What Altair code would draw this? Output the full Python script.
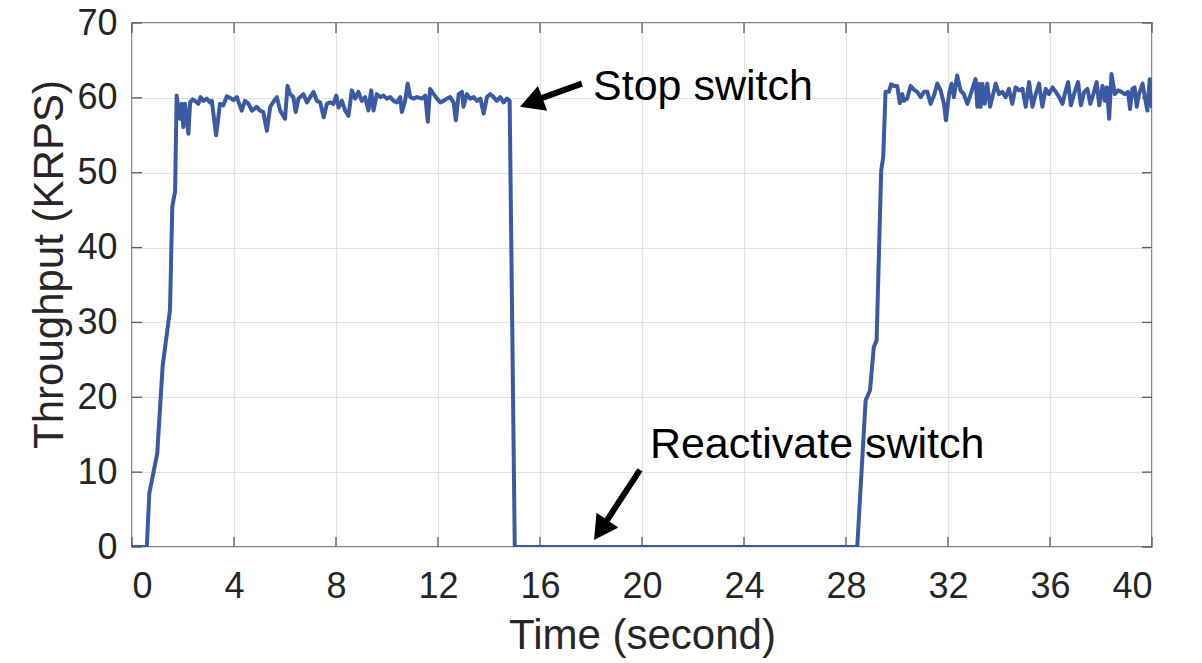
import altair as alt
import pandas as pd

# Throughput trace: time (s) and throughput (KRPS)
time_s = [
    0.0, 0.58, 0.68, 0.99, 1.20, 1.49, 1.58, 1.69,
    1.75, 1.88, 1.95, 2.01, 2.08, 2.21, 2.28, 2.38, 2.47, 2.60, 2.69, 2.80,
    2.93, 3.06, 3.13, 3.30, 3.45, 3.58, 3.72, 3.85, 3.98, 4.11, 4.30, 4.43,
    4.57, 4.70, 4.89, 5.02, 5.15, 5.29, 5.42, 5.55, 5.68, 5.81, 6.00, 6.10,
    6.20, 6.33, 6.42, 6.53, 6.72, 6.86, 6.99, 7.12, 7.25, 7.38, 7.52, 7.64,
    7.77, 7.90, 8.01, 8.10, 8.23, 8.36, 8.49, 8.62, 8.75, 8.88, 9.01, 9.14,
    9.27, 9.38, 9.47, 9.60, 9.73, 9.86, 9.99, 10.13, 10.26, 10.39, 10.52, 10.58,
    10.71, 10.81, 10.91, 11.04, 11.17, 11.37, 11.50, 11.60, 11.69, 11.83, 11.96, 12.09,
    12.22, 12.35, 12.48, 12.61, 12.70, 12.81, 12.94, 13.00, 13.13, 13.26, 13.40, 13.53,
    13.66, 13.79, 13.92, 14.05, 14.18, 14.31, 14.44, 14.57, 14.70, 14.81,
    15.01, 28.44,
    28.77, 28.94, 29.09, 29.20, 29.38, 29.46, 29.55,
    29.68, 29.77, 29.88, 30.01, 30.11, 30.21, 30.27, 30.40, 30.53, 30.66, 30.79, 30.93,
    31.06, 31.19, 31.32, 31.45, 31.58, 31.71, 31.84, 31.92, 32.04, 32.14, 32.23, 32.36,
    32.49, 32.62, 32.76, 32.89, 33.02, 33.08, 33.15, 33.21, 33.28, 33.35, 33.44, 33.54,
    33.65, 33.87, 34.00, 34.13, 34.26, 34.39, 34.52, 34.65, 34.79, 34.92, 35.05, 35.18,
    35.31, 35.44, 35.57, 35.70, 35.83, 35.96, 36.10, 36.23, 36.36, 36.49, 36.58, 36.71,
    36.82, 36.94, 37.10, 37.21, 37.34, 37.47, 37.58, 37.70, 37.83, 37.93, 38.06, 38.15,
    38.23, 38.32, 38.41, 38.54, 38.67, 38.80, 38.93, 39.06, 39.14, 39.23, 39.32, 39.40,
    39.49, 39.63, 39.72, 39.82, 39.91, 40.0,
]
krps = [
    0.0, 0.0, 7.2, 12.5, 24.1, 31.7, 45.5, 47.5,
    60.3, 57.2, 59.2, 56.1, 59.2, 55.2, 59.4, 59.8, 59.6, 59.2, 60.1, 59.6,
    59.9, 59.4, 59.6, 55.0, 59.2, 59.0, 60.2, 60.0, 59.7, 60.1, 58.3, 59.6,
    59.2, 58.3, 58.8, 58.3, 58.1, 55.6, 58.8, 59.5, 60.1, 58.3, 57.2, 61.6,
    60.5, 60.1, 58.1, 59.9, 60.5, 59.4, 60.1, 60.8, 59.6, 59.4, 57.4, 59.2,
    59.4, 59.2, 60.3, 58.7, 59.6, 58.3, 57.6, 61.0, 59.9, 60.8, 59.6, 60.1,
    58.3, 61.0, 58.3, 60.5, 60.1, 60.3, 59.9, 60.1, 59.6, 59.4, 60.1, 58.1,
    59.6, 61.9, 60.1, 59.9, 60.1, 59.9, 60.3, 56.8, 61.2, 60.5, 59.9, 59.4,
    59.6, 59.9, 60.1, 59.4, 57.0, 60.5, 60.8, 58.8, 60.5, 59.9, 60.1, 59.6,
    59.9, 57.9, 60.1, 60.5, 60.1, 59.6, 60.1, 59.4, 59.9, 59.6,
    0.0, 0.0,
    19.6, 20.9, 26.7, 27.6, 50.3, 52.1, 60.8,
    60.8, 61.8, 61.6, 61.6, 59.3, 60.5, 59.6, 59.9, 61.6, 61.1, 60.8, 60.1,
    60.8, 60.8, 59.2, 60.3, 61.9, 61.0, 59.2, 57.0, 60.5, 61.9, 60.1, 63.0,
    61.0, 60.5, 59.2, 60.5, 61.9, 62.5, 58.8, 61.9, 58.8, 61.9, 59.2, 61.9,
    58.8, 61.9, 60.5, 60.8, 60.1, 61.2, 59.2, 61.4, 61.0, 61.2, 58.8, 62.1,
    58.8, 60.5, 61.9, 58.8, 61.2, 60.5, 61.4, 60.8, 60.1, 59.2, 60.5, 62.1,
    59.0, 60.5, 62.1, 59.0, 60.8, 61.2, 59.2, 60.5, 62.1, 59.0, 61.6, 59.6,
    61.4, 57.2, 63.2, 60.5, 61.0, 60.8, 60.5, 60.8, 58.5, 61.2, 61.4, 58.8,
    60.5, 61.9, 60.1, 58.3, 62.5, 58.6,
]

x_ticks = list(range(0, 41, 4))
y_ticks = list(range(0, 71, 10))

# Annotation labels (anchor at the left end of the text baseline)
note_text = ["Stop switch", "Reactivate switch"]
note_t = [18.08, 20.31]
note_v = [59.7, 11.85]

# Arrows: tail -> base of the head, plus the tip and pointing angle
arrow_t = [17.64, 19.92]
arrow_v = [61.9, 10.3]
arrow_t2 = [15.76, 18.44]
arrow_v2 = [59.6, 2.6]
tip_t = [15.22, 18.12]
tip_v = [58.8, 0.94]
tip_angle = [249.2, 213.9]

W, H = 1020, 524
FONT = "Liberation Sans"
TXT = "#262626"
FRAME = "#5a5a5a"
LINE = "#3a5aa3"

trace = pd.DataFrame({"t": time_s, "v": krps})
notes = pd.DataFrame({"label": note_text, "t": note_t, "v": note_v})
arrows = pd.DataFrame({"t": arrow_t, "v": arrow_v, "t2": arrow_t2, "v2": arrow_v2})
tips = pd.DataFrame({"t": tip_t, "v": tip_v, "a": tip_angle})
xt = pd.DataFrame({"t": x_ticks})
yt = pd.DataFrame({"v": y_ticks})

xs = alt.Scale(domain=[0, 40], nice=False, zero=False)
ys = alt.Scale(domain=[0, 70], nice=False, zero=False)

x_axis = alt.Axis(
    values=x_ticks, grid=True, ticks=False, tickSize=0, domain=False,
    labelFont=FONT, labelFontSize=36, labelColor=TXT, labelPadding=22,
    title="Time (second)", titleFont=FONT, titleFontSize=42,
    titleFontWeight="normal", titleColor=TXT, titleBaseline="alphabetic",
    titleY=101, titleX=W / 2, titleAlign="center",
)
y_axis = alt.Axis(
    values=y_ticks, grid=True, ticks=False, tickSize=0, domain=False,
    labelFont=FONT, labelFontSize=36, labelColor=TXT, labelPadding=15,
    title="Throughput (KRPS)", titleFont=FONT, titleFontSize=42,
    titleFontWeight="normal", titleColor=TXT, titleAngle=270,
    titleBaseline="alphabetic", titleAlign="center", titleX=-70, titleY=241,
)

line = alt.Chart(trace).mark_line(
    color=LINE, strokeWidth=4, strokeJoin="round", clip=True
).encode(
    x=alt.X("t:Q", scale=xs, axis=x_axis),
    y=alt.Y("v:Q", scale=ys, axis=y_axis),
)

# Inward ticks on all four sides of the frame
xtick_bottom = alt.Chart(xt).mark_rule(color=FRAME, strokeWidth=1.3).encode(
    x=alt.X("t:Q", scale=xs), y=alt.value(H), y2=alt.value(H - 10))
xtick_top = alt.Chart(xt).mark_rule(color=FRAME, strokeWidth=1.3).encode(
    x=alt.X("t:Q", scale=xs), y=alt.value(0), y2=alt.value(10))
ytick_left = alt.Chart(yt).mark_rule(color=FRAME, strokeWidth=1.3).encode(
    y=alt.Y("v:Q", scale=ys), x=alt.value(0), x2=alt.value(10))
ytick_right = alt.Chart(yt).mark_rule(color=FRAME, strokeWidth=1.3).encode(
    y=alt.Y("v:Q", scale=ys), x=alt.value(W), x2=alt.value(W - 10))

labels = alt.Chart(notes).mark_text(
    align="left", baseline="alphabetic", font=FONT, fontSize=43, color="black"
).encode(
    x=alt.X("t:Q", scale=xs), y=alt.Y("v:Q", scale=ys), text="label:N"
)

shafts = alt.Chart(arrows).mark_rule(color="black", strokeWidth=6).encode(
    x=alt.X("t:Q", scale=xs), y=alt.Y("v:Q", scale=ys),
    x2="t2:Q", y2="v2:Q",
)

heads = alt.Chart(tips).mark_point(
    shape="M0,0L-0.55,1L0.55,1Z", filled=True, color="black", opacity=1,
    size=2304, strokeWidth=0,
).encode(
    x=alt.X("t:Q", scale=xs), y=alt.Y("v:Q", scale=ys),
    angle=alt.Angle("a:Q", scale=None),
)

chart = alt.layer(
    line, xtick_bottom, xtick_top, ytick_left, ytick_right, labels, shafts, heads
).properties(
    width=W, height=H, autosize="none",
    padding={"left": 132, "top": 23, "right": 50, "bottom": 116},
    background="white",
).configure_view(
    stroke=FRAME, strokeWidth=1.5
).configure_axis(
    gridColor="#e2e2e2", gridWidth=1.2
)

chart.save("out.html", embed_options={"renderer": "svg", "actions": False})
